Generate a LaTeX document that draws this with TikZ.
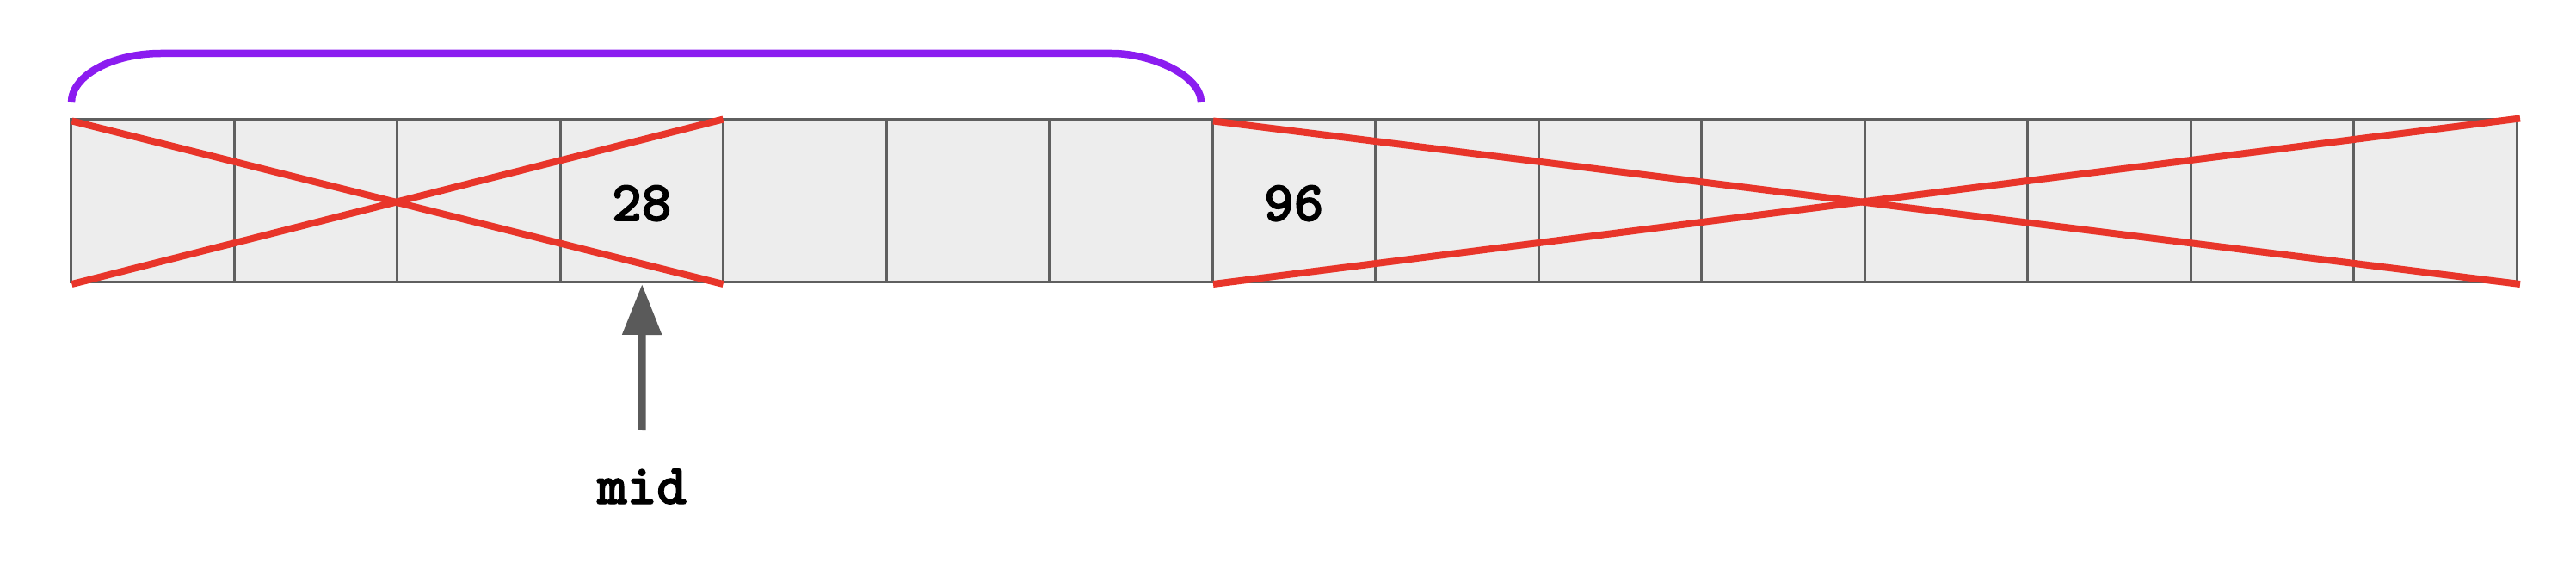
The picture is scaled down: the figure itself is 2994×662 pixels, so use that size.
\documentclass[tikz,border=0pt]{standalone}
\usepackage{fontspec}
\newfontfamily\codefont{lmmonolt10-bold.otf}[FakeBold=2]
\usetikzlibrary{arrows.meta,calc}
\definecolor{cellfill}{HTML}{EDEDED}
\definecolor{cellline}{HTML}{5F5F5F}
\definecolor{crossred}{HTML}{E8352A}
\definecolor{brpurple}{HTML}{8B1CF0}
\definecolor{arrowgray}{HTML}{5A5A5A}
\begin{document}
\begin{tikzpicture}[x=0.5pt,y=-0.5pt,
  cellbox/.style={draw=cellline,fill=cellfill,line width=1.5pt,minimum width=94.75pt,minimum height=94.75pt,inner sep=0pt,outer sep=0pt},
  valtext/.style={font=\fontsize{33}{38}\selectfont\codefont,anchor=base,inner sep=0pt},
  crossline/.style={draw=crossred,line width=4pt},
  bracketline/.style={draw=brpurple,line width=4.25pt},
  ptrarrow/.style={draw=arrowgray,line width=4.5pt,-{Triangle[length=29.5pt,width=22pt]}},
  ptrlabel/.style={font=\fontsize{33}{38}\selectfont\codefont,anchor=base,inner sep=0pt}]
\useasboundingbox (0,0) rectangle (2994,662);
\foreach \i in {0,...,14}{
  \node[cellbox] (c\i) at ({82.5+(\i+0.5)*189.5},233.25) {};
}
\node[valtext] (t28) at ($(c3.center)+(0,23)$) {28};
\node[valtext] (t96) at ($(c7.center)+(0,23)$) {96};
% red crosses
\draw[crossline] ($(c0.north west)+(1,2)$) -- ($(c3.south east)+(0,2)$);
\draw[crossline] ($(c0.south west)+(1,2)$) -- ($(c3.north east)+(0,0)$);
\draw[crossline] ($(c7.north west)+(1,2)$) -- ($(c14.south east)+(4,2)$);
\draw[crossline] ($(c7.south west)+(1,2)$) -- ($(c14.north east)+(4,-1)$);
% bracket
\coordinate (bl) at (83,119);
\coordinate (br) at (1396,119);
\draw[bracketline] (bl) .. controls (83,88) and (130,62) .. (187,62) -- (1292,62) .. controls (1339,62) and (1396,88) .. (br);
% pointer
\node[ptrlabel] (mid) at (746,585) {mid};
\coordinate (ptail) at (746,499);
\draw[ptrarrow] (ptail) -- ($(c3.south)+(0.5,2)$);
\end{tikzpicture}
\end{document}
